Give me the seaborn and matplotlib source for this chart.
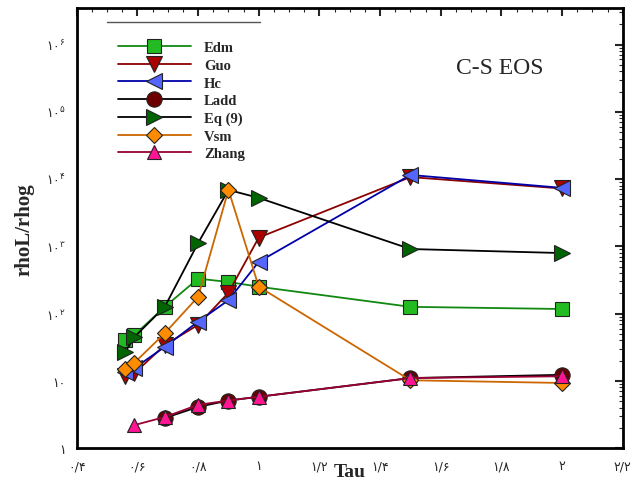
import numpy as np
import pandas as pd
import seaborn as sns
import matplotlib
matplotlib.use("Agg")
import matplotlib.pyplot as plt
from matplotlib.ticker import FixedLocator, MultipleLocator, LogLocator, NullFormatter

# Tau values
tau = [0.56, 0.59, 0.69, 0.8, 0.9, 1.0, 1.5, 2.0]
tau_ladd = [0.69, 0.8, 0.9, 1.0, 1.5, 2.0]
tau_zhang = [0.59, 0.69, 0.8, 0.9, 1.0, 1.5, 2.0]

# rhoL/rhog
edm = [41, 48, 126, 331, 295, 251, 126, 117]
guo = [12, 13, 34, 68, 204, 1350, 10700, 7240]
hc = [13.5, 15.5, 32, 76, 158, 589, 11500, 7400]
ladd = [2.8, 4.1, 5.1, 5.8, 11, 12.3]
eq9 = [27, 45, 126, 1120, 6900, 5250, 912, 794]
vsm = [15, 18.6, 51, 178, 6900, 251, 10.2, 9.3]
zhang = [2.2, 2.9, 4.4, 5.1, 5.8, 11, 11.7]

x_ticks = [0.4, 0.6, 0.8, 1.0, 1.2, 1.4, 1.6, 1.8, 2.0, 2.2]
x_labels = ['۰/۴', '۰/۶', '۰/۸', '۱', '۱/۲', '۱/۴', '۱/۶', '۱/۸', '۲', '۲/۲']
y_ticks = [1, 10, 1e2, 1e3, 1e4, 1e5, 1e6]
y_labels = ['۱', '۱۰', r'$\mathregular{۱۰^{۲}}$', r'$\mathregular{۱۰^{۳}}$',
            r'$\mathregular{۱۰^{۴}}$', r'$\mathregular{۱۰^{۵}}$', r'$\mathregular{۱۰^{۶}}$']

sns.set_style("white")
plt.rcParams['mathtext.fontset'] = 'dejavusans'

fig = plt.figure(figsize=(6.4, 4.85), dpi=100)
ax = fig.add_axes([0.120, 0.074, 0.853, 0.907])

series = [
    ('Edm', tau, edm, '#118811', 's', '#22BB22', 10),
    ('Guo', tau, guo, '#8B0000', 'v', '#AA0000', 11),
    ('Hc', tau, hc, '#0000AA', '<', '#5566FF', 11),
    ('Ladd', tau_ladd, ladd, '#000000', 'o', '#6B0000', 11),
    ('Eq (9)', tau, eq9, '#000000', '>', '#006400', 11),
    ('Vsm', tau, vsm, '#CC6600', 'D', '#FF8C00', 8.5),
    ('Zhang', tau_zhang, zhang, '#990033', '^', '#FF1493', 10),
]

for name, xs, ys, lc, mk, fc, ms in series:
    sns.lineplot(x=xs, y=ys, ax=ax, color=lc, lw=1.3, marker=mk, markersize=ms,
                 markerfacecolor=fc, markeredgecolor='#222222', markeredgewidth=0.8,
                 label=name, sort=False)

ax.set_yscale('log')
ax.set_xlim(0.4, 2.2)
ax.set_ylim(1, 10 ** 6.54)

ax.xaxis.set_major_locator(FixedLocator(x_ticks))
ax.set_xticklabels(x_labels, fontsize=9, family='DejaVu Sans')
ax.xaxis.set_minor_locator(MultipleLocator(0.05))
ax.yaxis.set_major_locator(FixedLocator(y_ticks))
ax.set_yticklabels(y_labels, fontsize=9, family='DejaVu Sans')
ax.yaxis.set_minor_locator(LogLocator(base=10, subs=np.arange(2, 10)))
ax.yaxis.set_minor_formatter(NullFormatter())

ax.tick_params(which='major', direction='in', length=6, width=1.5,
               top=True, right=True, pad=8)
ax.tick_params(which='minor', direction='in', length=3, width=0.8,
               top=True, right=True)
for sp in ax.spines.values():
    sp.set_linewidth(2)
    sp.set_color('black')

ax.set_xlabel('Tau', fontsize=14, fontweight='bold', family='Liberation Serif')
ax.xaxis.set_label_coords(0.5, -0.033)
ax.set_ylabel('rhoL/rhog', fontsize=15, fontweight='bold', family='Liberation Serif', labelpad=8)

ax.text(0.775, 0.866, 'C-S EOS', transform=ax.transAxes, fontsize=17,
        family='Liberation Serif', ha='center', va='center')

ax.plot([0.055, 0.335], [0.968, 0.968], transform=ax.transAxes, color='#555555', lw=1)

leg = ax.legend(loc='upper left', bbox_to_anchor=(0.075, 0.925), frameon=False,
                handlelength=5.0, handletextpad=0.9, labelspacing=0.3,
                prop={'family': 'Liberation Serif', 'weight': 'bold', 'size': 10.5},
                borderaxespad=0, borderpad=0)

fig.savefig('out.png', dpi=100)
